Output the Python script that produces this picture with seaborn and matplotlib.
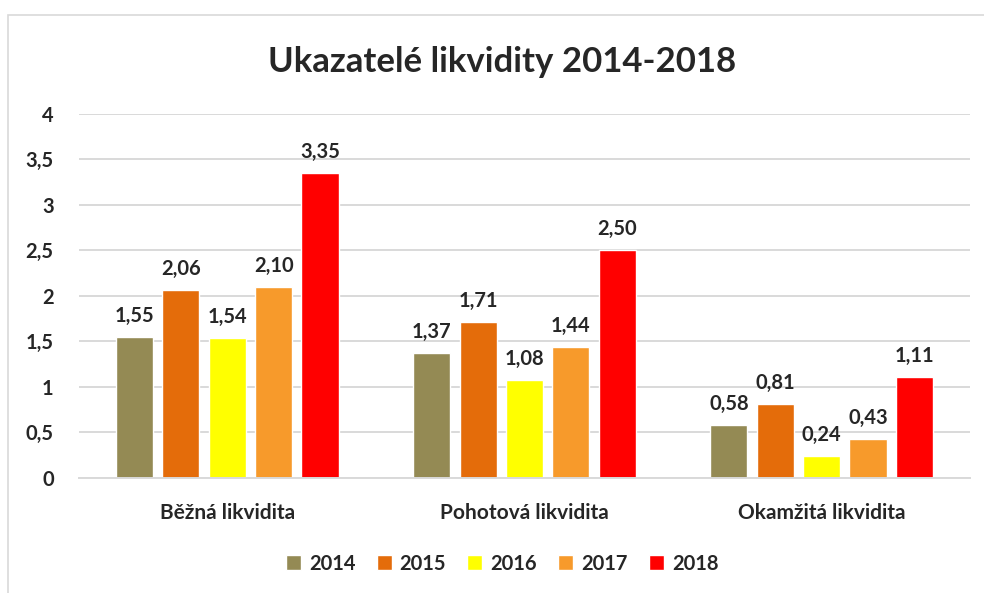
import matplotlib.pyplot as plt
import matplotlib.patches as mpatches
import pandas as pd
import seaborn as sns

# Chart data
categories = ['Běžná likvidita', 'Pohotová likvidita', 'Okamžitá likvidita']
years = ['2014', '2015', '2016', '2017', '2018']
values_2014 = [1.55, 1.37, 0.58]
values_2015 = [2.06, 1.71, 0.81]
values_2016 = [1.54, 1.08, 0.24]
values_2017 = [2.10, 1.44, 0.43]
values_2018 = [3.35, 2.50, 1.11]
colors = ['#948A54', '#E46C0A', '#FFFF00', '#F79A2B', '#FF0000']

series = [values_2014, values_2015, values_2016, values_2017, values_2018]
rows = []
for year, vals in zip(years, series):
    for cat, v in zip(categories, vals):
        rows.append({'kategorie': cat, 'rok': year, 'hodnota': v})
df = pd.DataFrame(rows)

sns.set_style('white')
plt.rcParams['font.family'] = ['Lato', 'DejaVu Sans']

fig = plt.figure(figsize=(9.84, 5.93), dpi=100)
ax = fig.add_axes([0.080, 0.194, 0.906, 0.614])

sns.barplot(data=df, x='kategorie', y='hodnota', hue='rok', order=categories,
            hue_order=years, palette=colors, width=0.78, gap=0.2,
            saturation=1, ax=ax, legend=True)

# Value labels with decimal comma
for cont in ax.containers:
    ax.bar_label(cont, labels=[f'{b.get_height():.2f}'.replace('.', ',') for b in cont],
                 padding=8, fontsize=14.5, fontweight='bold')

ax.set_ylim(0, 4)
ax.set_xlim(-0.5, 2.5)
ticks = [0, 0.5, 1, 1.5, 2, 2.5, 3, 3.5, 4]
ax.set_yticks(ticks)
ax.set_yticklabels([f'{t:g}'.replace('.', ',') for t in ticks], fontsize=14.5, fontweight='bold')
ax.tick_params(axis='x', labelsize=15, pad=18, length=0)
ax.tick_params(axis='y', pad=18, length=0)
for lbl in ax.get_xticklabels():
    lbl.set_fontweight('bold')
ax.set_xlabel('')
ax.set_ylabel('')
ax.grid(axis='y', color='#D9D9D9', linewidth=1.4)
ax.set_axisbelow(True)
for side in ['left', 'right', 'top']:
    ax.spines[side].set_visible(False)
ax.spines['bottom'].set_color('#D9D9D9')
ax.spines['bottom'].set_linewidth(1.4)

ax.set_title('Ukazatelé likvidity 2014-2018', fontsize=25, fontweight='bold', pad=30, x=0.475)

leg = ax.legend(loc='center', bbox_to_anchor=(0.475, -0.235), ncol=5, frameon=False,
                prop={'size': 14.5, 'weight': 'bold'}, handlelength=0.75, handleheight=0.75,
                handletextpad=0.4, columnspacing=1.05)

# Light chart border
fig.patches.append(mpatches.Rectangle((8 / 984, -0.1), 1.1, 1 - 15 / 593 + 0.1,
                                      transform=fig.transFigure, fill=False,
                                      edgecolor='#D9D9D9', linewidth=1.2))

fig.savefig('out.png', dpi=100)
